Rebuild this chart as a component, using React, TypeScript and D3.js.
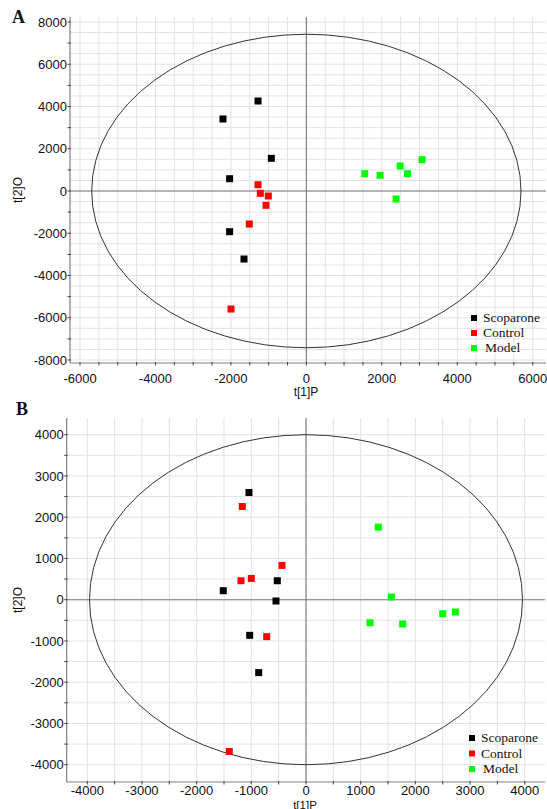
import React from "react";
import * as d3 from "d3";

// ---------- Data ----------
const seriesNames = ["Scoparone", "Control", "Model"];
const seriesColors = ["#000000", "#ff0000", "#00ff00"];

// Panel A (t[1]P, t[2]O)
const aScoparone: [number, number][] = [
  [-2210, 3410], [-1281, 4260], [-928, 1548], [-2034, 582], [-2034, -1926], [-1653, -3220],
];
const aControl: [number, number][] = [
  [-1281, 298], [-1220, -109], [-1008, -237], [-1069, -677], [-1512, -1563], [-1997, -5587],
];
const aModel: [number, number][] = [
  [1547, 820], [1955, 743], [2485, 1184], [2679, 820], [3068, 1483], [2379, -379],
];
const aXTicks = [-6000, -4000, -2000, 0, 2000, 4000, 6000];
const aYTicks = [-8000, -6000, -4000, -2000, 0, 2000, 4000, 6000, 8000];
const aEllipse = [5690, 7420];

// Panel B
const bScoparone: [number, number][] = [
  [-1043, 2598], [-1513, 218], [-525, 460], [-549, -31], [-1030, -864], [-865, -1768],
];
const bControl: [number, number][] = [
  [-1165, 2259], [-1189, 460], [-1000, 516], [-439, 831], [-719, -896], [-1403, -3680],
];
const bModel: [number, number][] = [
  [1323, 1760], [1561, 65], [1171, -557], [1768, -589], [2500, -339], [2731, -298],
];
const bXTicks = [-4000, -3000, -2000, -1000, 0, 1000, 2000, 3000, 4000];
const bYTicks = [-4000, -3000, -2000, -1000, 0, 1000, 2000, 3000, 4000];
const bEllipse = [3960, 4000];

interface PanelProps {
  letter: string;
  series: [number, number][][];
  xTicks: number[];
  yTicks: number[];
  xMinorStep: number;
  yMinorStep: number;
  gridStep: number;
  ellipse: number[];
  xDom: [number, number];
  xRange: [number, number];
  yDom: [number, number];
  yRange: [number, number];
  box: { left: number; right: number; top: number; bottom: number };
  xLabelOffset: number;
  letterPos: [number, number];
  xLabelPos: [number, number];
  xLabelSize: number;
  yLabelPos: [number, number];
  legendPos: [number, number];
  legendGap: number;
}

const sans = "'Liberation Sans', Arial, sans-serif";
const serif = "'Liberation Serif', 'Times New Roman', serif";

function Panel(p: PanelProps) {
  const x = d3.scaleLinear().domain(p.xDom).range(p.xRange);
  const y = d3.scaleLinear().domain(p.yDom).range(p.yRange);
  const { left, right, top, bottom } = p.box;
  const xMin = x.invert(left), xMax = x.invert(right);
  const yMin = y.invert(bottom), yMax = y.invert(top);
  const gridX = d3.range(Math.ceil(xMin / p.gridStep) * p.gridStep, xMax, p.gridStep);
  const gridY = d3.range(Math.ceil(yMin / p.gridStep) * p.gridStep, yMax, p.gridStep);
  const minorX = d3.range(Math.ceil(xMin / p.xMinorStep) * p.xMinorStep, xMax, p.xMinorStep);
  const minorY = d3.range(Math.ceil(yMin / p.yMinorStep) * p.yMinorStep, yMax, p.yMinorStep);
  const sz = 7;
  return (
    <g>
      {gridX.map((v) => (
        <line key={"gx" + v} x1={x(v)} x2={x(v)} y1={top} y2={bottom} stroke="#e2e2e2" strokeWidth={1} />
      ))}
      {gridY.map((v) => (
        <line key={"gy" + v} x1={left} x2={right} y1={y(v)} y2={y(v)} stroke="#e2e2e2" strokeWidth={1} />
      ))}
      {/* zero lines */}
      <line x1={x(0)} x2={x(0)} y1={top} y2={bottom} stroke="#7a7a7a" strokeWidth={1.1} />
      <line x1={left} x2={right} y1={y(0)} y2={y(0)} stroke="#7a7a7a" strokeWidth={1.1} />
      {/* axes */}
      <line x1={left} x2={left} y1={top} y2={bottom} stroke="#808080" strokeWidth={1.2} />
      <line x1={left} x2={right} y1={bottom} y2={bottom} stroke="#808080" strokeWidth={1.2} />
      {minorY.map((v) => (
        <line key={"ty" + v} x1={left - 2.5} x2={left + 1} y1={y(v)} y2={y(v)} stroke="#444" strokeWidth={1} />
      ))}
      {minorX.map((v) => (
        <line key={"tx" + v} x1={x(v)} x2={x(v)} y1={bottom - 1} y2={bottom + 2.5} stroke="#444" strokeWidth={1} />
      ))}
      {p.yTicks.map((v) => (
        <text key={"ly" + v} x={left - 3} y={y(v)} dy="0.35em" textAnchor="end" fontFamily={sans} fontSize={13} fill="#111">
          {v}
        </text>
      ))}
      {p.xTicks.map((v) => (
        <text key={"lx" + v} x={x(v)} y={bottom + p.xLabelOffset} textAnchor="middle" fontFamily={sans} fontSize={13} fill="#111">
          {v}
        </text>
      ))}
      {/* ellipse */}
      <ellipse
        cx={x(0)}
        cy={y(0)}
        rx={x(p.ellipse[0]) - x(0)}
        ry={y(0) - y(p.ellipse[1])}
        fill="none"
        stroke="#333"
        strokeWidth={1}
      />
      {/* points */}
      {p.series.map((s, i) =>
        s.map((d, j) => (
          <rect key={"p" + i + "-" + j} x={x(d[0]) - sz / 2} y={y(d[1]) - sz / 2} width={sz} height={sz} fill={seriesColors[i]} />
        ))
      )}
      {/* labels */}
      <text x={p.letterPos[0]} y={p.letterPos[1]} fontFamily={serif} fontWeight="bold" fontSize={18} fill="#111">
        {p.letter}
      </text>
      <text x={p.xLabelPos[0]} y={p.xLabelPos[1]} textAnchor="middle" fontFamily={sans} fontSize={p.xLabelSize} fill="#111">
        t[1]P
      </text>
      <text
        transform={`translate(${p.yLabelPos[0]},${p.yLabelPos[1]}) rotate(-90)`}
        textAnchor="middle"
        fontFamily={sans}
        fontSize={12}
        fill="#111"
      >
        t[2]O
      </text>
      {/* legend */}
      {seriesNames.map((n, i) => (
        <g key={n} transform={`translate(${p.legendPos[0]},${p.legendPos[1] + i * p.legendGap})`}>
          <rect x={-3} y={-3} width={6} height={6} fill={seriesColors[i]} />
          <text x={i === 2 ? 11 : 9} y={0} dy="0.33em" fontFamily={serif} fontSize={13.5} fill="#111">
            {n}
          </text>
        </g>
      ))}
    </g>
  );
}

export default function App() {
  return (
    <svg width={547} height={809} style={{ position: "absolute", left: 0, top: 0, background: "#fff" }}>
      <Panel
        letter="A"
        series={[aScoparone, aControl, aModel]}
        xTicks={aXTicks}
        yTicks={aYTicks}
        xMinorStep={500}
        yMinorStep={1000}
        gridStep={500}
        ellipse={aEllipse}
        xDom={[-6000, 6000]}
        xRange={[80, 532.7]}
        yDom={[-8000, 8000]}
        yRange={[360, 22]}
        box={{ left: 70, right: 546, top: 17, bottom: 363 }}
        xLabelOffset={20}
        letterPos={[12, 23]}
        xLabelPos={[306, 396]}
        xLabelSize={12}
        yLabelPos={[22, 190]}
        legendPos={[474, 318]}
        legendGap={15}
      />
      <Panel
        letter="B"
        series={[bScoparone, bControl, bModel]}
        xTicks={bXTicks}
        yTicks={bYTicks}
        xMinorStep={500}
        yMinorStep={500}
        gridStep={500}
        ellipse={bEllipse}
        xDom={[-4000, 4000]}
        xRange={[87.3, 524.7]}
        yDom={[-4000, 4000]}
        yRange={[764.7, 434.7]}
        box={{ left: 66.7, right: 545, top: 418, bottom: 782 }}
        xLabelOffset={12.5}
        letterPos={[16, 415]}
        xLabelPos={[305, 808.5]}
        xLabelSize={11.5}
        yLabelPos={[22, 600]}
        legendPos={[472, 738]}
        legendGap={15.5}
      />
    </svg>
  );
}
